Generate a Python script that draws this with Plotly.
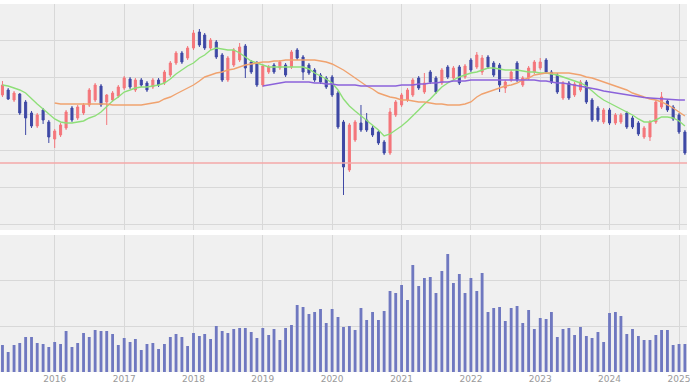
import plotly.graph_objects as go
import pandas as pd

# ---- data (monthly, Apr 2015 - Feb 2025) ----
months = pd.date_range("2015-04-01", periods=119, freq="MS")

open_ = [205,210,200,206,198,187,174,190,178,
         161,165,172,192,182,187,195,200,214,198,200,204,
         212,221,210,220,217,213,220,217,225,237,247,242,
         252,268,265,252,258,245,220,235,240,254,238,237,
         215,228,235,232,235,233,250,243,235,230,225,222,
         223,207,178,130,160,177,180,172,168,158,147,185,
         195,200,205,222,208,228,222,217,233,222,233,223,
         240,233,228,243,237,235,212,220,237,215,222,228,
         232,240,228,225,202,217,205,210,218,200,192,178,
         190,177,178,187,182,177,163,163,178,193,199,193,
         185,168]
high = [219,212,209,207,200,189,187,192,180,
        171,177,190,194,195,197,212,217,216,206,209,215,
        224,223,222,222,219,222,222,230,239,249,249,254,
        270,271,267,262,260,247,244,252,257,256,240,239,
        236,235,237,240,237,250,252,245,237,232,227,224,
        225,209,180,177,180,195,187,174,170,160,192,200,
        207,212,222,224,227,230,224,232,235,234,235,236,
        242,248,245,245,239,237,220,230,239,224,234,240,
        242,242,230,227,219,219,218,220,220,202,194,192,
        192,187,187,189,184,179,174,180,200,208,201,195,
        187,170]
low = [203,200,198,185,165,172,172,176,157,
       152,163,170,178,180,185,193,198,193,175,198,202,
       210,211,208,213,208,211,213,215,223,235,236,240,
       250,253,250,250,241,218,218,233,238,222,226,213,
       213,226,226,230,223,231,240,220,225,218,216,211,
       203,171,105,128,158,168,168,163,155,145,145,183,
       193,198,203,210,206,216,206,215,221,220,215,221,
       228,231,225,231,223,208,207,218,218,213,220,226,
       230,226,216,206,200,200,203,208,196,178,178,176,
       175,175,176,171,171,164,161,159,176,191,188,179,
       166,145]
close = [215,201,207,187,182,174,185,180,163,
         169,175,188,180,193,195,210,215,195,205,207,213,
         222,213,220,215,210,220,215,228,237,247,238,252,
         267,255,252,260,243,220,242,250,253,232,228,215,
         234,233,228,238,225,248,242,228,227,220,218,213,
         205,173,133,175,178,170,170,165,157,147,188,198,
         205,210,220,212,217,218,208,230,223,232,217,234,
         230,245,242,233,225,215,218,228,220,222,232,238,
         238,228,218,208,217,202,216,218,198,180,180,190,
         177,185,185,173,173,166,172,178,198,203,190,181,
         168,147]

ma_short = [215,214,212,210,207,201,196,191,186,
            181,178,177,177,178,179,182,184,188,193,199,203,
            208,210,212,213,213,214,215,217,221,226,230,234,
            237,242,245,250,252,251,250,250,247,243,239,237,
            235,233,233,233,233,233,233,233,231,227,224,221,
            217,210,201,194,189,184,180,175,170,164,166,170,
            174,179,184,190,196,201,207,213,217,220,223,225,
            227,228,230,232,232,231,230,230,230,229,228,228,
            227,227,226,225,223,221,219,217,214,209,204,200,
            197,194,191,188,185,181,178,178,180,183,183,182,
            179,174]
ma_mid = [None]*9 + [
            197,196,196,196,196,196,196,196,196,196,195,195,
            195,195,195,195,196,197,198,201,203,206,209,212,
            215,219,223,225,227,228,230,231,233,235,236,237,
            238,238,239,239,240,240,240,240,240,240,239,238,
            236,233,230,226,222,218,214,211,207,205,203,202,
            200,200,199,198,198,197,196,196,195,195,195,196,
            198,203,206,208,210,212,214,215,217,220,222,225,
            226,227,227,227,227,227,226,225,223,222,220,218,
            216,214,212,210,207,205,203,201,200,198,195,192,
            188,184]
ma_long = [None]*45 + [
            214,215,216,217,218,218,218,218,218,217,217,216,
            216,215,215,215,215,214,214,214,214,214,214,214,
            215,215,215,216,216,217,217,218,218,219,219,219,
            220,220,220,220,220,220,220,220,220,220,220,220,
            219,219,218,217,217,216,215,214,213,212,210.5,209,
            208,207,206,205,204,203,202.5,202,201.5,201,200.5,200,
            200,200]

volume = [27,20,27,29,35,35,29,28,25,
          30,28,41,25,29,39,35,42,41,41,38,27,
          34,30,33,22,28,29,23,28,35,38,35,26,
          39,36,38,33,46,41,39,43,44,44,40,34,
          44,37,43,32,44,47,67,65,58,60,63,49,
          63,55,45,46,42,64,52,60,52,61,81,79,
          87,72,107,86,94,95,79,101,118,89,98,79,
          94,81,99,60,64,65,51,64,66,49,62,43,
          54,53,60,35,43,44,37,45,36,34,40,30,
          59,60,56,38,43,36,32,32,37,42,42,27,
          28,28]

support_level = 137

for arr in (open_, high, low, close, ma_short, ma_mid, ma_long, volume):
    assert len(arr) == len(months)

# ---- styles ----
RED = "#F4767B"
BLUE = "#3E48A5"
GRID = "#D8D8D8"
BG = "#F0F0F0"

fig = go.Figure()
fig.add_trace(go.Candlestick(
    x=months, open=open_, high=high, low=low, close=close,
    increasing=dict(line=dict(color=RED, width=1), fillcolor=RED),
    decreasing=dict(line=dict(color=BLUE, width=1), fillcolor=BLUE),
    whiskerwidth=0, xaxis="x", yaxis="y", showlegend=False, hoverinfo="skip"))

for vals, col in ((ma_short, "#8EDF78"), (ma_mid, "#F0A26E"), (ma_long, "#8B62DA")):
    fig.add_trace(go.Scatter(x=months, y=vals, mode="lines",
                             line=dict(color=col, width=1.4),
                             xaxis="x", yaxis="y", showlegend=False, hoverinfo="skip"))

fig.add_hline(y=support_level, line=dict(color="#F5A8A8", width=1.5),
              xref="x", yref="y")

fig.add_trace(go.Bar(x=months, y=volume, width=15*24*3600*1000,
                     marker=dict(color="#6F78C0", line=dict(width=0)),
                     xaxis="x2", yaxis="y2", showlegend=False, hoverinfo="skip"))

xrange = ["2015-03-19", "2025-02-12"]
common_x = dict(range=xrange, type="date", dtick="M12", tick0="2016-01-01",
                showgrid=True, gridcolor=GRID, gridwidth=1, zeroline=False,
                showline=False, ticks="")

fig.update_layout(
    width=690, height=388,
    margin=dict(l=0, r=0, t=4, b=16),
    paper_bgcolor="white", plot_bgcolor=BG,
    showlegend=False,
    boxgap=0.45,
    xaxis=dict(domain=[0, 1], anchor="y", showticklabels=False,
               rangeslider=dict(visible=False), **common_x),
    xaxis2=dict(domain=[0, 1], anchor="y2", matches="x", showticklabels=True,
                tickformat="%Y", ticklabeloverflow="allow",
                tickfont=dict(family="DejaVu Sans", size=9, color="#9A9A9A"),
                **common_x),
    yaxis=dict(domain=[0.3859, 1], range=[70, 296], tick0=75.5, dtick=36.75,
               showticklabels=False, showgrid=True, gridcolor=GRID, zeroline=False),
    yaxis2=dict(domain=[0, 0.3723], range=[0, 137], tick0=0, dtick=45.67,
                showticklabels=False, showgrid=True, gridcolor=GRID, zeroline=False),
)

fig.write_html("out.html")
